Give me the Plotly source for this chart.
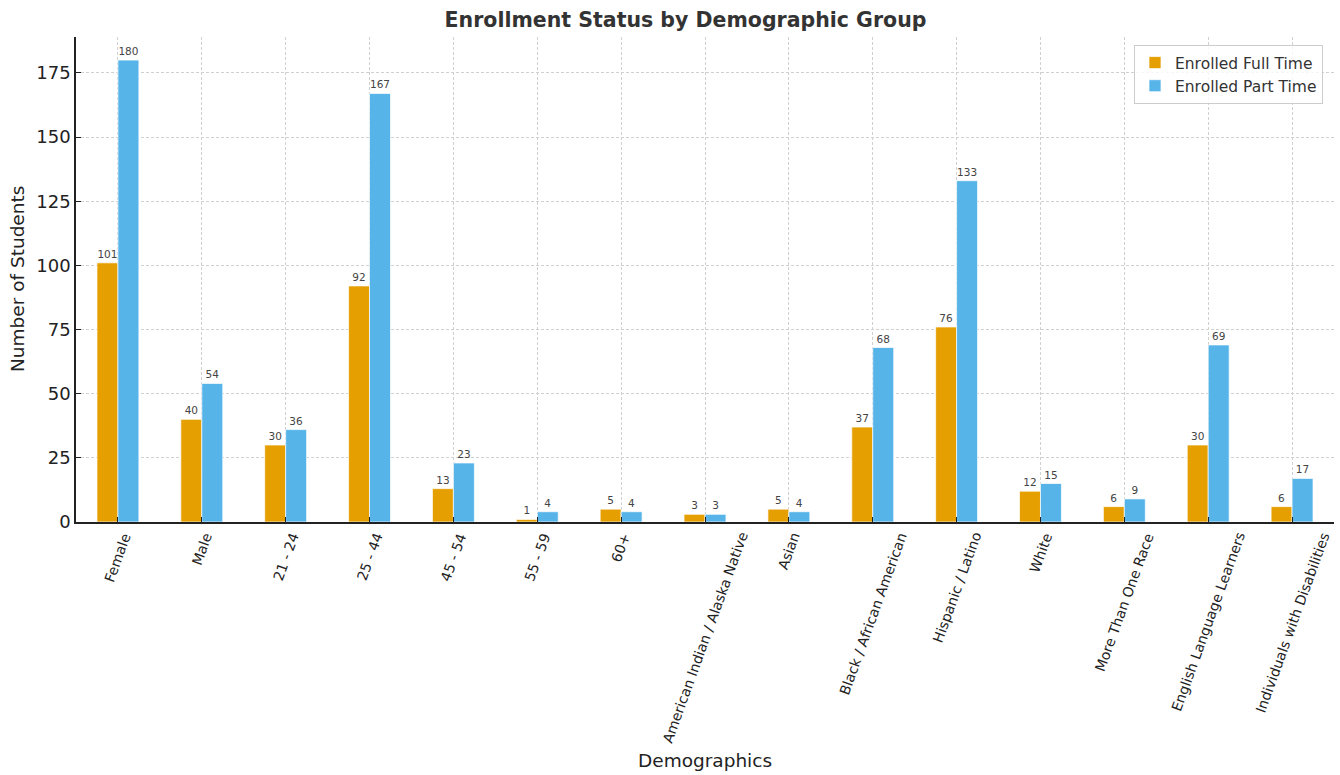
import plotly.graph_objects as go

categories = ["Female", "Male", "21 - 24", "25 - 44", "45 - 54", "55 - 59", "60+",
              "American Indian / Alaska Native", "Asian", "Black / African American",
              "Hispanic / Latino", "White", "More Than One Race",
              "English Language Learners", "Individuals with Disabilities"]
full_time = [101, 40, 30, 92, 13, 1, 5, 3, 5, 37, 76, 12, 6, 30, 6]
part_time = [180, 54, 36, 167, 23, 4, 4, 3, 4, 68, 133, 15, 9, 69, 17]
y_ticks = [0, 25, 50, 75, 100, 125, 150, 175]

FONT = "DejaVu Sans"
ORANGE = "#E69F00"
BLUE = "#56B4E9"

W, H = 1340, 775
L, R, T, B = 76, 6, 37, 253
plot_w = W - L - R

fig = go.Figure()
for name, vals, col in [("Enrolled Full Time", full_time, ORANGE),
                        ("Enrolled Part Time", part_time, BLUE)]:
    fig.add_trace(go.Bar(
        x=categories, y=vals, name=name,
        marker=dict(color=col, line=dict(color="rgba(255,255,255,0.7)", width=1)),
        text=[str(v) for v in vals], textposition="outside",
        textfont=dict(family=FONT, size=10.5, color="#444"),
        constraintext="none", cliponaxis=False,
    ))

annotations = []
for c in categories:
    annotations.append(dict(
        x=c, xref="x", y=0, yref="paper", yshift=-6,
        text=c, textangle=-70, showarrow=False,
        xanchor="center", yanchor="top",
        font=dict(family=FONT, size=14, color="#222"),
    ))
annotations.append(dict(
    x=0.5, xref="paper", y=(H - B - 760) / (H - T - B), yref="paper",
    text="Demographics", showarrow=False, xanchor="center", yanchor="middle",
    font=dict(family=FONT, size=18.5, color="#222"),
))
annotations.append(dict(
    x=(17.5 - L) / plot_w, xref="paper", y=0.5, yref="paper",
    text="Number of Students", textangle=-90, showarrow=False,
    xanchor="center", yanchor="middle",
    font=dict(family=FONT, size=18.5, color="#222"),
))

fig.update_layout(
    width=W, height=H,
    margin=dict(l=L, r=R, t=T, b=B),
    paper_bgcolor="white", plot_bgcolor="white",
    font=dict(family=FONT, color="#222"),
    title=dict(text="<b>Enrollment Status by Demographic Group</b>",
               x=685.5 / W, xref="container", xanchor="center",
               y=1 - 20 / H, yref="container", yanchor="middle",
               font=dict(family=FONT, size=20.5, color="#333")),
    barmode="group", bargap=0.5, bargroupgap=0,
    showlegend=True,
    legend=dict(x=(1323 - L) / plot_w, y=(H - B - 45) / (H - T - B),
                xanchor="right", yanchor="top", tracegroupgap=0,
                bgcolor="rgba(255,255,255,0.8)", bordercolor="#ccc", borderwidth=1,
                font=dict(family=FONT, size=15.5, color="#333")),
    annotations=annotations,
)
grid_kw = dict(showgrid=True, gridcolor="#d0d0d0", griddash="3px,2px", gridwidth=1)
fig.update_xaxes(
    type="category", range=[-0.5, len(categories) - 0.5],
    showticklabels=False, ticks="inside", ticklen=5, tickcolor="#222", tickwidth=1.2,
    showline=True, linecolor="#222", linewidth=1.5, zeroline=False, **grid_kw,
)
fig.update_yaxes(
    range=[0, 189], tickvals=y_ticks, ticks="inside", ticklen=5, tickcolor="#222",
    tickwidth=1.2, tickfont=dict(family=FONT, size=18, color="#222"),
    showline=True, linecolor="#222", linewidth=1.5, zeroline=False, **grid_kw,
)

fig.write_html("out.html")
